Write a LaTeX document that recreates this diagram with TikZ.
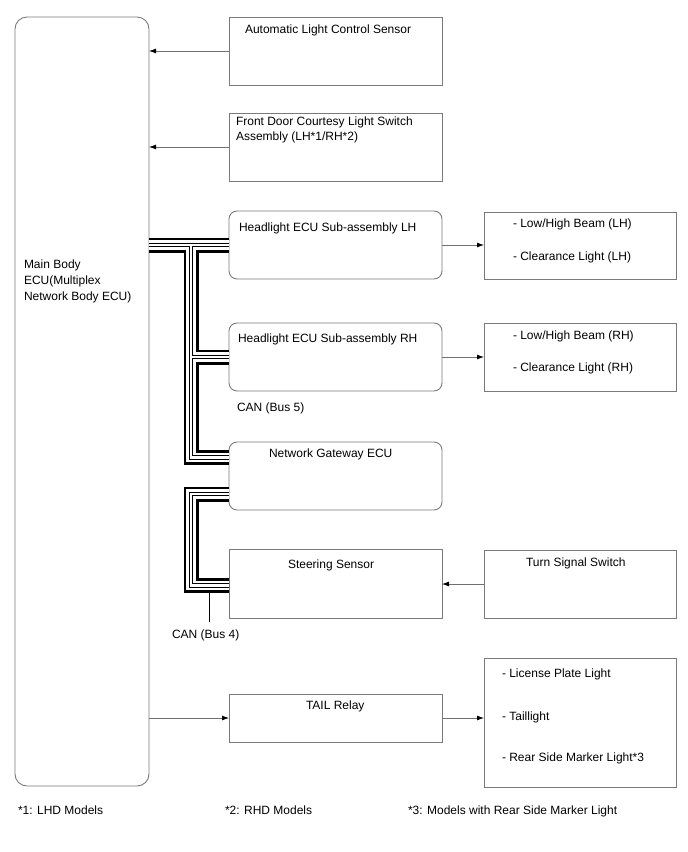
\documentclass[tikz,border=0pt]{standalone}
\usepackage{fontspec}
\setmainfont{Liberation Sans}
\usetikzlibrary{arrows.meta,calc}
\definecolor{boxgray}{HTML}{7A7A7A}
\definecolor{arrgray}{HTML}{707070}
\begin{document}
\begin{tikzpicture}[x=1pt,y=-1pt,
  box/.style={draw=boxgray, line width=0.9pt, anchor=north west, inner sep=0pt, outer sep=0pt, minimum width=213pt, minimum height=68pt},
  rbox/.style={box, rounded corners=8pt},
  obox/.style={box, minimum width=192pt},
  txt/.style={font=\fontsize{12}{15}\selectfont, inner sep=0pt, outer sep=0pt, anchor=base west},
  arr/.style={draw=arrgray, line width=0.8pt, -{Latex[length=7pt,width=5pt,black]}},
  stub/.style={draw=black, line width=1pt},
]
\useasboundingbox (0,0) rectangle (688,852);

% boxes
\node[box, rounded corners=12pt, minimum width=134pt, minimum height=769pt] (ecu) at (15,17) {};
\node[box] (als) at (229,17) {};
\node[box] (fdc) at (229,113) {};
\node[rbox] (hlh) at (229,211) {};
\node[rbox] (hrh) at (229,323) {};
\node[rbox] (gw) at (229,442) {};
\node[box, minimum height=69pt] (ss) at (229,549) {};
\node[obox] (ts) at (484,550) {};
\node[box, minimum height=48pt] (tail) at (229,694) {};
\node[obox, minimum height=67pt] (olh) at (484,212) {};
\node[obox] (orh) at (484,323) {};
\node[obox, minimum height=129pt] (ort) at (484,658) {};

% texts
\node[txt] (t1) at (24,268.5) {Main Body};
\node[txt] (t2) at (24,284.5) {ECU(Multiplex};
\node[txt] (t3) at (24,300.5) {Network Body ECU)};
\node[txt] (t4) at (245,33.5) {Automatic Light Control Sensor};
\node[txt] (t5) at (236,125.5) {Front Door Courtesy Light Switch};
\node[txt] (t6) at (236,140.5) {Assembly (LH*1/RH*2)};
\node[txt] (t7) at (239,231.5) {Headlight ECU Sub-assembly LH};
\node[txt] (t8) at (238,342.5) {Headlight ECU Sub-assembly RH};
\node[txt] (t9) at (513,227.5) {- Low/High Beam (LH)};
\node[txt] (t10) at (513,260.5) {- Clearance Light (LH)};
\node[txt] (t11) at (513,339.5) {- Low/High Beam (RH)};
\node[txt] (t12) at (513,371.5) {- Clearance Light (RH)};
\node[txt] (t13) at (237,411.5) {CAN (Bus 5)};
\node[txt] (t14) at (269,457.5) {Network Gateway ECU};
\node[txt] (t15) at (288,568.5) {Steering Sensor};
\node[txt] (t16) at (526,566.5) {Turn Signal Switch};
\node[txt] (t17) at (172,638.5) {CAN (Bus 4)};
\node[txt] (t18) at (306,709.5) {TAIL Relay};
\node[txt] (t19) at (502,677.5) {- License Plate Light};
\node[txt] (t20) at (502,720.5) {- Taillight};
\node[txt] (t21) at (502,761.5) {- Rear Side Marker Light*3};
\node[txt] (f1) at (18,814.5) {*1: LHD Models};
\node[txt] (f2) at (225,814.5) {*2: RHD Models};
\node[txt] (f3) at (408,814.5) {*3: Models with Rear Side Marker Light};

% arrows
\draw[arr] (als.west) -- (ecu.east |- als.west);
\draw[arr] (fdc.west) -- (ecu.east |- fdc.west);
\draw[arr] (hlh.east) -- (olh.west |- hlh.east);
\draw[arr] (hrh.east) -- (orh.west |- hrh.east);
\draw[arr] (ts.west) -- (ss.east |- ts.west);
\draw[arr] (ecu.east |- tail.west) -- (tail.west);
\draw[arr] (tail.east) -- (ort.west |- tail.east);

% bus coordinates
\coordinate (tk) at (191,0);
\coordinate (gwA) at ([yshift=18.5pt]gw.west);
\coordinate (gwB) at ([yshift=-18pt]gw.west);
\coordinate (ssB) at ([yshift=-2pt]ss.west);
\coordinate (s4) at (209,622);

% stub of bus 4
\draw[stub] (s4 |- ssB) -- (s4);

% CAN buses (nested double lines)
\foreach \w/\c in {15/black,9.4/white,4.8/black,2.6/white}{
  \draw[line width=\w pt, draw=\c, line cap=butt, line join=miter]
    (ecu.east |- hlh.west) -- (hlh.west)
    (tk |- hlh.west) -- (tk |- gwA) -- (gwA)
    (tk |- hrh.west) -- (hrh.west)
    (gwB) -- (tk |- gwB) -- (tk |- ssB) -- (ssB);
}
\end{tikzpicture}
\end{document}
